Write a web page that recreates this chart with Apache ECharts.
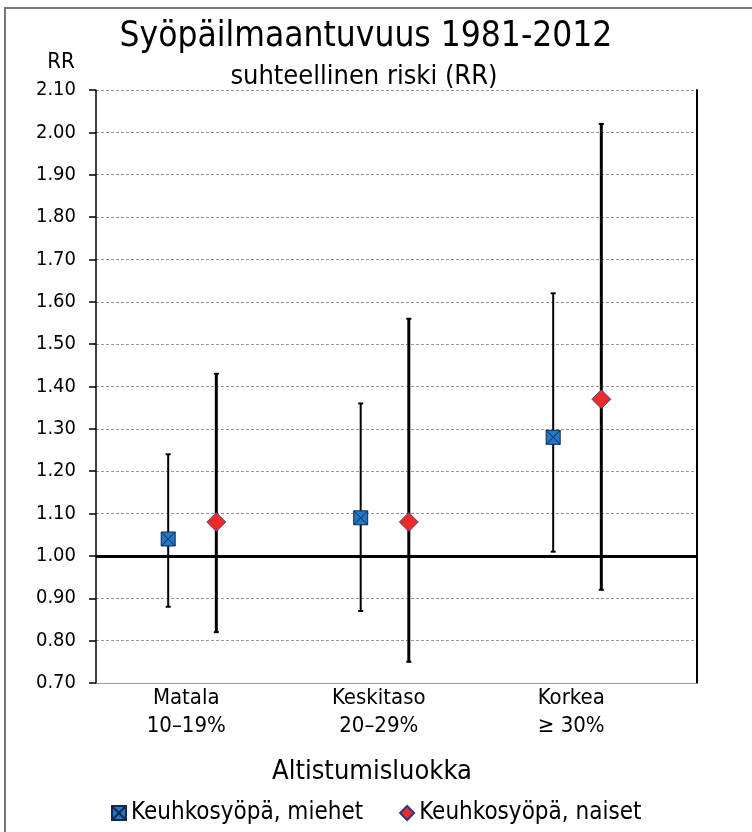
<!DOCTYPE html>
<html>
<head>
<meta charset="utf-8">
<script src="https://cdn.jsdelivr.net/npm/echarts@6/dist/echarts.min.js"></script>
<style>
html,body{margin:0;padding:0;background:#fff;}
#chart{width:752px;height:832px;}
</style>
</head>
<body>
<div id="chart"></div>
<script>
// ---- data ----
const categories = ['Matala\n10–19%', 'Keskitaso\n20–29%', 'Korkea\n≥ 30%'];
const yTicks = [0.7, 0.8, 0.9, 1.0, 1.1, 1.2, 1.3, 1.4, 1.5, 1.6, 1.7, 1.8, 1.9, 2.0, 2.1];
const menRR = [1.04, 1.09, 1.28];
const menLow = [0.88, 0.87, 1.01];
const menHigh = [1.24, 1.36, 1.62];
const womenRR = [1.08, 1.08, 1.37];
const womenLow = [0.82, 0.75, 0.92];
const womenHigh = [1.43, 1.56, 2.02];
const seriesNames = ['Keuhkosyöpä, miehet', 'Keuhkosyöpä, naiset'];

// ---- layout helpers ----
const FONT = 'DejaVu Sans Condensed';
const PLOT_L = 96, PLOT_R = 697, PLOT_T = 90, PLOT_B = 683;
const BAND = 192.5;                       // width of one category band in px
const XMAX = (PLOT_R - PLOT_L) / BAND;    // value-axis extent covering the framed plot
const OFFSET = 0.125;                     // horizontal offset of each series from band centre

function pts(vals, off) { return vals.map((v, i) => [i + 0.5 + off, v]); }
function bars(lo, hi, off) { return lo.map((l, i) => [i + 0.5 + off, l, hi[i]]); }

function errRender(lw) {
  return function (params, api) {
    const x = api.value(0);
    const a = api.coord([x, api.value(1)]);
    const b = api.coord([x, api.value(2)]);
    const c = 2.5;
    const st = { stroke: '#000', lineWidth: lw };
    return {
      type: 'group',
      children: [
        { type: 'line', shape: { x1: a[0], y1: a[1], x2: b[0], y2: b[1] }, style: st },
        { type: 'line', shape: { x1: b[0] - c, y1: b[1], x2: b[0] + c, y2: b[1] }, style: { stroke: '#000', lineWidth: 2 } },
        { type: 'line', shape: { x1: a[0] - c, y1: a[1], x2: a[0] + c, y2: a[1] }, style: { stroke: '#000', lineWidth: 2 } }
      ]
    };
  };
}

const chart = echarts.init(document.getElementById('chart'), null, { renderer: 'canvas' });
const option = {
  backgroundColor: '#fff',
  animation: false,
  title: [
    { text: 'Syöpäilmaantuvuus 1981-2012', left: 361, top: 14, textAlign: 'center',
      textStyle: { fontFamily: FONT, fontSize: 35, fontWeight: 'normal', color: '#000' } },
    { text: 'suhteellinen riski (RR)', left: 359, top: 58, textAlign: 'center',
      textStyle: { fontFamily: FONT, fontSize: 27, fontWeight: 'normal', color: '#000' } },
    { text: 'RR', left: 56, top: 46, textAlign: 'center',
      textStyle: { fontFamily: FONT, fontSize: 22, fontWeight: 'normal', color: '#000' } },
    { text: 'Altistumisluokka', left: 367, top: 753, textAlign: 'center',
      textStyle: { fontFamily: FONT, fontSize: 27, fontWeight: 'normal', color: '#000' } }
  ],
  graphic: [
    { type: 'rect', shape: { x: 5, y: 8, width: 800, height: 900 },
      style: { fill: 'none', stroke: '#777', lineWidth: 2 }, silent: true, z: 0 }
  ],
  legend: {
    data: seriesNames,
    left: 106, top: 796,
    itemWidth: 14, itemHeight: 14, itemGap: 36,
    textStyle: { fontFamily: FONT, fontSize: 24, color: '#000' }
  },
  grid: [
    { left: PLOT_L, top: PLOT_T, width: PLOT_R - PLOT_L, height: PLOT_B - PLOT_T, containLabel: false },
    { left: PLOT_L - 6, top: PLOT_T, width: BAND * categories.length, height: PLOT_B - PLOT_T, containLabel: false }
  ],
  xAxis: [
    { type: 'value', gridIndex: 0, min: 0, max: XMAX, position: 'bottom',
      axisLine: { show: true, lineStyle: { color: '#999', width: 1 } },
      axisTick: { show: false }, axisLabel: { show: false }, splitLine: { show: false } },
    { type: 'category', gridIndex: 1, data: categories, position: 'bottom',
      axisLine: { show: false }, axisTick: { show: false }, splitLine: { show: false },
      axisLabel: { fontFamily: FONT, fontSize: 22, color: '#000', lineHeight: 28, margin: 1 } }
  ],
  yAxis: [
    { type: 'value', gridIndex: 0, min: yTicks[0], max: yTicks[yTicks.length - 1], interval: 0.1,
      axisLine: { show: true, lineStyle: { color: '#000', width: 1.5 } },
      axisTick: { show: true, inside: false, length: 7, lineStyle: { color: '#000', width: 1.5 } },
      axisLabel: { fontFamily: FONT, fontSize: 20, color: '#000', margin: 20,
        formatter: v => v.toFixed(2) },
      splitLine: { show: true, lineStyle: { color: '#999', width: 1, type: [3, 2] } } },
    { type: 'value', gridIndex: 0, position: 'right', min: yTicks[0], max: yTicks[yTicks.length - 1],
      axisLine: { show: true, lineStyle: { color: '#000', width: 2 } },
      axisTick: { show: false }, axisLabel: { show: false }, splitLine: { show: false } },
    { type: 'value', gridIndex: 1, show: false, min: yTicks[0], max: yTicks[yTicks.length - 1] }
  ],
  series: [
    { name: 'ci-m', type: 'custom', xAxisIndex: 0, yAxisIndex: 0, z: 2,
      renderItem: errRender(2), data: bars(menLow, menHigh, -OFFSET), silent: true,
      markLine: { silent: true, symbol: 'none', label: { show: false },
        lineStyle: { color: '#000', width: 3, type: 'solid' }, data: [{ yAxis: 1 }] } },
    { name: 'ci-w', type: 'custom', xAxisIndex: 0, yAxisIndex: 0, z: 2,
      renderItem: errRender(3), data: bars(womenLow, womenHigh, OFFSET), silent: true },
    { name: seriesNames[0], type: 'scatter', xAxisIndex: 0, yAxisIndex: 0, z: 5,
      symbol: 'path://M0,0L10,0L10,10L0,10Z M0,0L10,10 M10,0L0,10', symbolSize: 14,
      itemStyle: { color: '#1f78c8', borderColor: '#14284a', borderWidth: 1, opacity: 1 },
      data: pts(menRR, -OFFSET) },
    { name: seriesNames[1], type: 'scatter', xAxisIndex: 0, yAxisIndex: 0, z: 5,
      symbol: 'diamond', symbolSize: 19,
      itemStyle: { color: '#ee2a2a', borderColor: '#2a3a7a', borderWidth: 0.8, opacity: 1 },
      data: pts(womenRR, OFFSET) }
  ]
};
chart.setOption(option);
</script>
</body>
</html>
